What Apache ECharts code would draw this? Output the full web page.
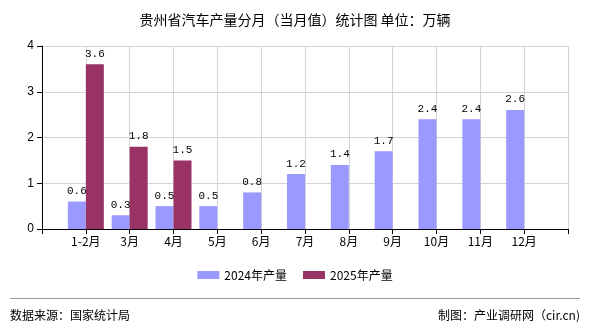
<!DOCTYPE html>
<html><head><meta charset="utf-8">
<script src="https://cdn.jsdelivr.net/npm/echarts@6/dist/echarts.min.js"></script>
<style>html,body{margin:0;padding:0;background:#fff}#c{width:590px;height:330px}</style>
</head><body><div id="c"></div>
<script>
const categories = ['1-2月','3月','4月','5月','6月','7月','8月','9月','10月','11月','12月'];
const values2024 = [0.6,0.3,0.5,0.5,0.8,1.2,1.4,1.7,2.4,2.4,2.6];
const values2025 = [3.6,1.8,1.5,null,null,null,null,null,null,null,null];
const seriesNames = ['2024年产量','2025年产量'];
const yTicks = [0,1,2,3,4];

const cats = [''].concat(categories, ['']);
const pad = a => [null].concat(a, [null]);
const cjk = '"Noto Sans CJK SC", sans-serif';
const chart = echarts.init(document.getElementById('c'));
const labelStyle = {show:true, position:'top', distance:5, color:'#000', fontFamily:'"Liberation Mono", monospace', fontSize:11,
  formatter: p => p.value == null ? '' : p.value.toFixed(1)};
chart.setOption({
  animation:false,
  title:{text:'贵州省汽车产量分月（当月值）统计图 单位：万辆', left:'center', top:8,
    textStyle:{fontFamily:cjk, fontSize:14, fontWeight:'normal', color:'#000'}},
  grid:{left:42, right:22, top:46, bottom:101},
  legend:{bottom:44, left:'center', itemWidth:22, itemHeight:8, itemGap:16, icon:'rect',
    textStyle:{fontFamily:cjk, fontSize:12, color:'#000'}, data:seriesNames},
  xAxis:{type:'category', data:cats, boundaryGap:false,
    axisLine:{lineStyle:{color:'#000'}}, axisTick:{show:true, length:5, lineStyle:{color:'#000'}},
    axisLabel:{color:'#000', fontFamily:cjk, fontSize:12, margin:6, interval:0},
    splitLine:{show:true, lineStyle:{color:'#d4d4d4'}}},
  yAxis:{type:'value', min:yTicks[0], max:yTicks[yTicks.length-1], interval:1,
    axisLine:{show:true, lineStyle:{color:'#000'}}, axisTick:{show:true, length:5, lineStyle:{color:'#000'}},
    axisLabel:{color:'#000', fontFamily:'"Liberation Sans", sans-serif', fontSize:12, margin:8},
    splitLine:{show:true, lineStyle:{color:'#d4d4d4'}}},
  series:[
    {name:seriesNames[0], type:'bar', data:pad(values2024), barWidth:18, barGap:'0%', itemStyle:{color:'#9999FF'}, label:labelStyle},
    {name:seriesNames[1], type:'bar', data:pad(values2025), barWidth:18, barGap:'0%', itemStyle:{color:'#993366'}, label:labelStyle}
  ],
  graphic:[
    {type:'line', shape:{x1:10,y1:298.5,x2:580,y2:298.5}, style:{stroke:'#999', lineWidth:1}},
    {type:'text', left:10, top:309, style:{text:'数据来源：国家统计局', font:'12px '+cjk, fill:'#000'}},
    {type:'text', right:10, top:309, style:{text:'制图：产业调研网（cir.cn)', font:'12px '+cjk, fill:'#000'}}
  ]
});
</script></body></html>
